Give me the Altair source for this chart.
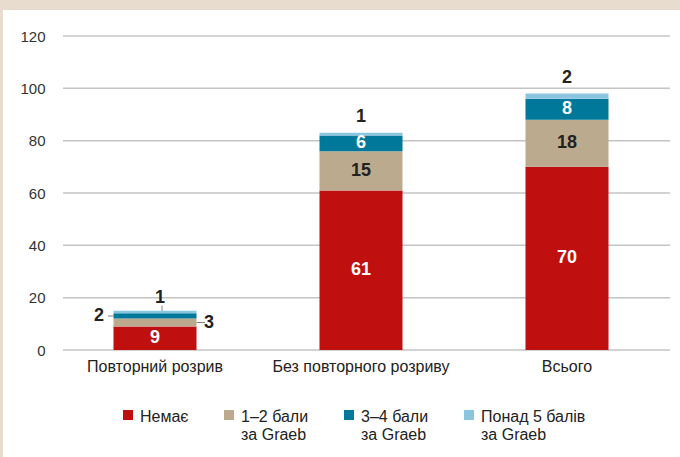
import altair as alt
import pandas as pd

categories = ["Повторний розрив", "Без повторного розриву", "Всього"]
series = ["Немає", "1–2 бали\nза Graeb", "3–4 бали\nза Graeb", "Понад 5 балів\nза Graeb"]
colors = ["#C00F0F", "#BBAA8D", "#00789A", "#8BC6E0"]
text_colors = ["white", "#222222", "white", "#222222"]
outside_color = "#222222"

none_vals = [9, 61, 70]
g12_vals = [3, 15, 18]
g34_vals = [2, 6, 8]
g5_vals = [1, 1, 2]

# where each segment label sits, per category
placements = [
    ["in", "right", "left", "top_r"],
    ["in", "in", "in", "top"],
    ["in", "in", "in", "top"],
]
leaders = [True, False, False]

y_ticks = [0, 20, 40, 60, 80, 100, 120]

FONT = "Liberation Sans"
W, H = 618, 314

rows = []
series_vals = [none_vals, g12_vals, g34_vals, g5_vals]
for i, cat in enumerate(categories):
    base = 0
    for j, s in enumerate(series):
        v = series_vals[j][i]
        place = placements[i][j]
        rows.append({
            "cat": cat, "series": s, "value": v,
            "y0": base, "y1": base + v, "mid": base + v / 2,
            "label": str(v),
            "tcolor": text_colors[j] if place == "in" else outside_color,
            "place": place, "lead": leaders[i] and place != "in",
        })
        base += v
df = pd.DataFrame(rows)

yscale = alt.Scale(domain=[0, 120], nice=False, zero=True)
xscale = alt.Scale(domain=categories, paddingInner=0.597, paddingOuter=0.2985)

# square legend symbol, shifted down so it sits level with the first label line
SYMBOL_PATH = "M-1,0.2H1V2.2H-1Z"


def build(with_style):
    legend_kw = dict(
        title=None, orient="none", legendX=68, legendY=365,
        direction="horizontal", columns=4, symbolType=SYMBOL_PATH,
        symbolSize=100, symbolStrokeWidth=0, labelFontSize=16,
        labelFont=FONT, labelColor="#222222", labelOffset=4,
        columnPadding=32,
        labelExpr="split(indexof(datum.label, '\\n') >= 0 ? datum.label : datum.label + '\\n ', '\\n')",
        labelBaseline="top", padding=0, gridAlign="each", labelLimit=300,
    )

    grid = alt.Chart(pd.DataFrame({"v": y_ticks})).mark_rule(color="#C4C4C4", strokeWidth=1.5).encode(
        y=alt.Y("v:Q", scale=yscale, title=None),
        x=alt.value(11),
        x2=alt.value(W),
    )

    bars = alt.Chart(df).mark_bar().encode(
        x=alt.X("cat:N", scale=xscale, sort=categories, title=None,
                axis=alt.Axis(labelFontSize=16, labelFont=FONT, labelColor="#222222", ticks=False,
                              domain=False, labelPadding=8, labelAngle=0, grid=False)),
        y=alt.Y("y0:Q", scale=yscale, title=None,
                axis=alt.Axis(values=y_ticks, labelFontSize=15, labelFont=FONT, labelColor="#333333",
                              ticks=False, domain=False, grid=False, labelPadding=7)),
        y2="y1:Q",
        color=alt.Color("series:N", scale=alt.Scale(domain=series, range=colors),
                        legend=alt.Legend(**legend_kw)),
    )

    def text_layer(place, ycol, **kw):
        return alt.Chart(df).transform_filter(alt.datum.place == place).mark_text(
            fontSize=18, fontWeight="bold", font=FONT, **kw
        ).encode(
            x=alt.X("cat:N", scale=xscale, sort=categories, title=None),
            y=alt.Y(f"{ycol}:Q", scale=yscale, title=None),
            text="label:N",
            color=alt.Color("tcolor:N", scale=None),
        )

    t_in = text_layer("in", "mid")
    t_top = text_layer("top", "y1", dy=-16)
    t_top_r = text_layer("top_r", "y1", dy=-13, dx=5)
    t_left = text_layer("left", "mid", dx=-56)
    t_right = text_layer("right", "mid", dx=54)

    def lead_layer(place, ycol, **kw):
        return alt.Chart(df).transform_filter(
            (alt.datum.place == place) & alt.datum.lead
        ).mark_rule(color="#808080", strokeWidth=1, **kw).encode(
            x=alt.X("cat:N", scale=xscale, sort=categories, title=None),
            x2=alt.X2("cat:N"),
            y=alt.Y(f"{ycol}:Q", scale=yscale, title=None),
        )

    l_left = lead_layer("left", "mid", xOffset=-47, x2Offset=-41.5)
    l_right = lead_layer("right", "mid", xOffset=41.5, x2Offset=50)
    l_top = alt.Chart(df).transform_filter(
        (alt.datum.place == "top_r") & alt.datum.lead
    ).mark_rule(color="#808080", strokeWidth=1, xOffset=7, x2Offset=7, y2Offset=-5).encode(
        x=alt.X("cat:N", scale=xscale, sort=categories, title=None),
        x2=alt.X2("cat:N"),
        y=alt.Y("y1:Q", scale=yscale, title=None),
        y2=alt.Y2("y1:Q"),
    )

    frame_df = pd.DataFrame({"k": [0]})
    top_strip = alt.Chart(frame_df).mark_rect(color="#E7DCCD").encode(
        x=alt.value(-52), x2=alt.value(W + 10), y=alt.value(-36), y2=alt.value(-26)
    )
    left_strip = alt.Chart(frame_df).mark_rect(color="#E7DCCD").encode(
        x=alt.value(-52), x2=alt.value(-49), y=alt.value(-36), y2=alt.value(H + 107)
    )

    ch = alt.layer(
        grid, bars, l_left, l_right, l_top, t_in, t_top, t_top_r, t_left, t_right, top_strip, left_strip
    ).properties(
        width=W, height=H,
        padding={"left": 52, "top": 36, "right": 10, "bottom": 107},
        autosize=alt.AutoSizeParams(type="none"),
        background="white",
    ).configure_view(stroke=None)
    if with_style:
        ch = ch.configure_style(**{"guide-label": {"lineHeight": 21}})
    return ch


try:
    chart = build(True)
    chart.save("out.html", embed_options={"renderer": "svg", "actions": False})
except Exception:
    chart = build(False)
    chart.save("out.html", embed_options={"renderer": "svg", "actions": False})
